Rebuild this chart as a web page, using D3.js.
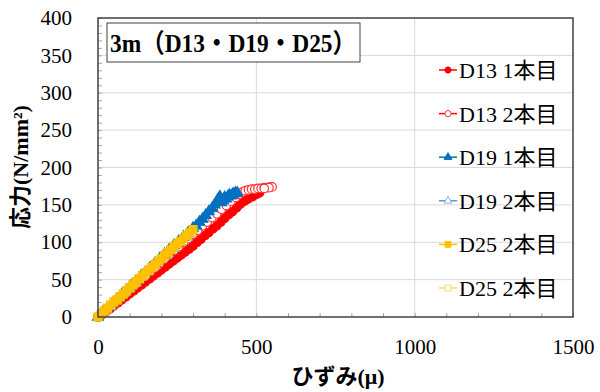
<!DOCTYPE html>
<html><head><meta charset="utf-8">
<script src="https://cdn.jsdelivr.net/npm/d3@7"></script>
<style>
body{margin:0;background:#fff;}
svg{display:block;}
</style></head>
<body>
<svg id="chart" width="600" height="392"></svg>
<script>
// ---- data ----
const seriesNames = ["D13 1本目","D13 2本目","D19 1本目","D19 2本目","D25 2本目","D25 2本目"];
const xTicks = [0,500,1000,1500];
const yTicks = [0,50,100,150,200,250,300,350,400];
const titleText = "3m（D13・D19・D25）";

const d13a_strain = [0,12,25,38,50,63,75,88,100,113,125,138,150,163,175,188,200,213,225,238,250,263,275,288,300,313,325,338,350,363,375,388,400,413,425,438,450,463,475,488,500,510];
const d13a_stress = [0,3,7,11,15,19,23,27,31,35,39,43,47,51,55,59,63,67,71,75,79,83,87,91,95,100,104,109,113,118,122,127,132,137,141,146,151,155,158,161,164,166];

const d13b_strain = [0,15,30,45,60,75,90,105,120,135,150,165,180,195,210,225,240,255,270,285,300,315,330,345,360,375,390,405,420,435,445,455,465,475,485,495,505,515,525,535,545,550,540,525];
const d13b_stress = [0,6,11,17,22,28,33,39,44,50,55,61,66,72,78,83,89,94,100,105,111,116,122,127,133,138,144,149,155,160,164,167,169,170,171,171,172,172,173,173,174,174,173,172];

const d19a_strain = [0,15,30,45,60,75,90,105,120,135,150,165,180,195,210,225,240,255,270,285,300,310,320,330,340,350,360,368,375,380,385,390,395,400,405,410,415,420,425,430,435,440];
const d19a_stress = [0,6,12,18,24,30,36,42,48,54,60,66,72,78,84,90,96,101,107,113,119,122,127,131,136,141,145,150,154,158,161,153,156,160,158,161,163,162,164,165,166,166];

const d19b_strain = [0,20,40,60,80,100,120,140,160,180,200,220,240,260,280];
const d19b_stress = [0,8,15,23,31,38,46,54,62,69,77,85,92,100,108];

const d25a_strain = [0,10,20,30,40,50,60,70,80,90,100,110,120,130,140,150,160,170,180,190,200,210,220,230,240,250,260,270,280,290,300];
const d25a_stress = [0,4,8,12,16,20,23,27,31,35,39,43,47,51,55,59,62,66,70,74,78,82,86,90,94,98,101,105,109,113,117];

const d25b_strain = [0,20,40,60,80,100,120,140,160,180,200,220,240,260,280];
const d25b_stress = [0,8,16,23,31,39,47,55,63,70,78,86,94,101,109];

const seriesData = [
  [d13a_strain,d13a_stress],[d13b_strain,d13b_stress],[d19a_strain,d19a_stress],
  [d19b_strain,d19b_stress],[d25a_strain,d25a_stress],[d25b_strain,d25b_stress]
];
// ---- styles ----
const styles = [
  {line:"#FF0000", stroke:"#FF0000", fill:"#FF0000", shape:d3.symbolCircle, size:56},
  {line:"#FF0000", stroke:"#FF3030", fill:"#FFFFFF", shape:d3.symbolCircle, size:56},
  {line:"#0070C0", stroke:"#0070C0", fill:"#0070C0", shape:d3.symbolTriangle, size:50},
  {line:"#5B9BD5", stroke:"#7FB2E0", fill:"#FFFFFF", shape:d3.symbolTriangle, size:44},
  {line:"#FFC000", stroke:"#FFC000", fill:"#FFC000", shape:d3.symbolSquare, size:64},
  {line:"#FFD966", stroke:"#FFD966", fill:"none", shape:d3.symbolSquare, size:56}
];
const legendSizes = [30,30,26,26,34,34];
const drawOrder = [0,1,3,2,5,4];

const svg = d3.select("#chart");
const x = d3.scaleLinear().domain([0,1500]).range([98,573]);
const y = d3.scaleLinear().domain([0,400]).range([317,18]);
const serif = "'Liberation Serif','Noto Sans CJK JP',serif";

svg.append("rect").attr("width",600).attr("height",392).attr("fill","#fff");

// gridlines
svg.append("g").selectAll("line").data(yTicks.filter(v=>v>0&&v<400)).join("line")
  .attr("x1",x(0)).attr("x2",x(1500)).attr("y1",d=>y(d)).attr("y2",d=>y(d))
  .attr("stroke","#D9D9D9").attr("stroke-width",1);
svg.append("g").selectAll("line").data(xTicks.filter(v=>v>0&&v<1500)).join("line")
  .attr("x1",d=>x(d)).attr("x2",d=>x(d)).attr("y1",y(0)).attr("y2",y(400))
  .attr("stroke","#D9D9D9").attr("stroke-width",1);

// minor ticks
const minorY = d3.range(0,401,10), minorX = d3.range(0,1501,100);
svg.append("g").attr("transform",`translate(${x(0)},0)`)
  .call(d3.axisLeft(y).tickValues(minorY).tickSize(-4).tickFormat(""))
  .call(g=>g.select(".domain").remove()).selectAll("line").attr("stroke","#A6A6A6");
svg.append("g").attr("transform",`translate(0,${y(0)})`)
  .call(d3.axisBottom(x).tickValues(minorX).tickSize(-4).tickFormat(""))
  .call(g=>g.select(".domain").remove()).selectAll("line").attr("stroke","#A6A6A6");

// major axes labels
const fmt = d3.format("d");
const ya = svg.append("g").attr("transform",`translate(${x(0)},0)`)
  .call(d3.axisLeft(y).tickValues(yTicks).tickSize(0).tickPadding(26).tickFormat(fmt));
ya.select(".domain").remove();
ya.selectAll("text").attr("font-family",serif).attr("font-size",21).attr("fill","#000");
const xa = svg.append("g").attr("transform",`translate(0,${y(0)})`)
  .call(d3.axisBottom(x).tickValues(xTicks).tickSize(0).tickPadding(22).tickFormat(fmt));
xa.select(".domain").remove();
xa.selectAll("text").attr("font-family",serif).attr("font-size",21).attr("fill","#000");

// series
drawOrder.forEach(i=>{
  const s = seriesData[i];
  const st = styles[i];
  const pts = s[0].map((v,k)=>[v,s[1][k]]);
  const g = svg.append("g");
  g.append("path").datum(pts)
    .attr("d",d3.line().x(d=>x(d[0])).y(d=>y(d[1])))
    .attr("fill","none").attr("stroke",st.line).attr("stroke-width",2.5);
  g.selectAll("path.m").data(pts).join("path").attr("class","m")
    .attr("transform",d=>`translate(${x(d[0])},${y(d[1])})`)
    .attr("d",d3.symbol().type(st.shape).size(st.size))
    .attr("fill",st.fill).attr("stroke",st.stroke).attr("stroke-width",1.2);
});

// plot border
svg.append("rect").attr("x",x(0)).attr("y",y(400)).attr("width",x(1500)-x(0)).attr("height",y(0)-y(400))
  .attr("fill","none").attr("stroke","#404040").attr("stroke-width",1.5);

// title box
svg.append("rect").attr("x",107).attr("y",23).attr("width",253).attr("height",39)
  .attr("fill","#fff").attr("stroke","#404040").attr("stroke-width",1);
svg.append("text").attr("x",110).attr("y",52).text(titleText)
  .attr("font-family",serif).attr("font-weight","bold").attr("font-size",26)
  .attr("textLength",246).attr("lengthAdjust","spacingAndGlyphs");

// legend
const lg = svg.append("g");
seriesNames.forEach((n,i)=>{
  const st = styles[i];
  const cy = 70 + i*43.6;
  lg.append("line").attr("x1",439).attr("x2",457).attr("y1",cy).attr("y2",cy)
    .attr("stroke",st.line).attr("stroke-width",1.5);
  lg.append("path").attr("transform",`translate(448,${cy})`)
    .attr("d",d3.symbol().type(st.shape).size(legendSizes[i]))
    .attr("fill",st.fill==="none"?"#fff":st.fill).attr("stroke",st.stroke);
  lg.append("text").attr("x",459).attr("y",cy).attr("dy","0.36em").text(n)
    .attr("font-family",serif).attr("font-size",22).attr("fill","#000");
});

// axis titles
svg.append("text").attr("transform",`translate(28,167) rotate(-90)`).attr("text-anchor","middle")
  .attr("font-family",serif).attr("font-weight","bold").attr("font-size",22).text("応力(N/mm²)");
svg.append("text").attr("x",338).attr("y",384).attr("text-anchor","middle")
  .attr("font-family",serif).attr("font-weight","bold").attr("font-size",22).text("ひずみ(μ)");
</script>
</body></html>
